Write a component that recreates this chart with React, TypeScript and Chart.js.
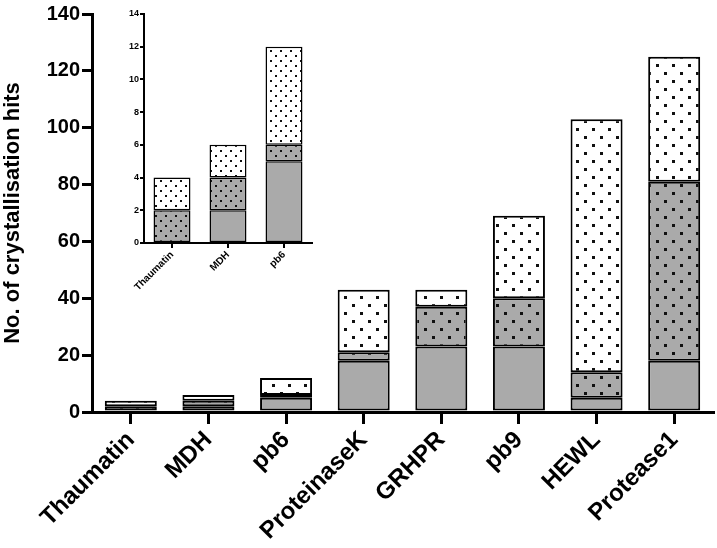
import React, { useEffect, useRef } from 'react';
import { Chart, registerables } from 'chart.js';

Chart.register(...registerables);

// ---- Data ----
const categories = ['Thaumatin', 'MDH', 'pb6', 'ProteinaseK', 'GRHPR', 'pb9', 'HEWL', 'Protease1'];
const solidGrey = [0, 2, 5, 18, 23, 23, 5, 18];
const dottedGrey = [2, 2, 1, 3, 14, 17, 9, 63];
const dottedWhite = [2, 2, 6, 22, 6, 29, 89, 44];

const mainYMin = 0;
const mainYMax = 140;
const mainYStep = 20;

const insetCount = 3; // inset shows the first three categories
const insetYMin = 0;
const insetYMax = 14;
const insetYStep = 2;

const yTitle = 'No. of crystallisation hits';

const FONT = '"Liberation Sans", Arial, sans-serif';
const GREY = '#aaaaaa';
const DOT = '#111111';

function makePattern(ctx: CanvasRenderingContext2D, bg: string, tile: number, dot: number) {
  const c = document.createElement('canvas');
  c.width = tile;
  c.height = tile;
  const t = c.getContext('2d')!;
  t.fillStyle = bg;
  t.fillRect(0, 0, tile, tile);
  t.fillStyle = DOT;
  t.fillRect(0, 0, dot, dot);
  t.fillRect(tile / 2, tile / 2, dot, dot);
  return ctx.createPattern(c, 'repeat')!;
}

function buildConfig(
  ctx: CanvasRenderingContext2D,
  labels: string[],
  a: number[],
  b: number[],
  c: number[],
  o: any
): any {
  const greyDots = makePattern(ctx, GREY, o.tile, o.dot);
  const whiteDots = makePattern(ctx, '#ffffff', o.tile, o.dot);
  const common = {
    borderColor: '#000000',
    borderWidth: o.barBorder,
    borderSkipped: false,
    barPercentage: o.barPct,
    categoryPercentage: 1,
  };
  return {
    type: 'bar',
    data: {
      labels,
      datasets: [
        { ...common, data: a, backgroundColor: GREY },
        { ...common, data: b, backgroundColor: greyDots },
        { ...common, data: c, backgroundColor: whiteDots },
      ],
    },
    options: {
      responsive: false,
      animation: false,
      events: [],
      plugins: { legend: { display: false }, tooltip: { enabled: false } },
      layout: { padding: o.padding },
      scales: {
        x: {
          stacked: true,
          offset: true,
          grid: {
            display: true,
            drawOnChartArea: false,
            drawTicks: true,
            tickLength: o.xTickLen,
            lineWidth: o.axisWidth,
            color: '#000000',
            offset: false,
          },
          border: { display: true, width: o.axisWidth, color: '#000000' },
          ticks: {
            autoSkip: false,
            maxRotation: 45,
            minRotation: 45,
            padding: o.xLabelPad,
            color: '#000000',
            font: { family: FONT, size: o.xFont, weight: 'bold' },
          },
          afterFit: (s: any) => {
            s.height = o.xHeight;
          },
        },
        y: {
          stacked: true,
          min: o.yMin,
          max: o.yMax,
          grid: {
            display: true,
            drawOnChartArea: false,
            drawTicks: true,
            tickLength: o.yTickLen,
            lineWidth: o.axisWidth,
            color: '#000000',
          },
          border: { display: true, width: o.axisWidth, color: '#000000' },
          ticks: {
            stepSize: o.yStep,
            padding: o.yLabelPad,
            color: '#000000',
            font: { family: FONT, size: o.yFont, weight: 'bold' },
          },
          title: o.title
            ? {
                display: true,
                text: o.title,
                color: '#000000',
                padding: { top: 0, bottom: 0 },
                font: { family: FONT, size: o.titleFont, weight: 'bold' },
              }
            : { display: false },
          afterFit: (s: any) => {
            s.width = o.yWidth;
          },
        },
      },
    },
  };
}

export default function App() {
  const mainRef = useRef<HTMLCanvasElement>(null);
  const insetRef = useRef<HTMLCanvasElement>(null);

  useEffect(() => {
    const mctx = mainRef.current!.getContext('2d')!;
    const ictx = insetRef.current!.getContext('2d')!;
    const main = new Chart(
      mainRef.current!,
      buildConfig(mctx, categories, solidGrey, dottedGrey, dottedWhite, {
        tile: 16,
        dot: 3,
        barBorder: 2,
        barPct: 0.67,
        padding: { top: 12, right: 4, left: 0, bottom: 0 },
        xTickLen: 12,
        yTickLen: 10,
        axisWidth: 3,
        xLabelPad: 2,
        yLabelPad: 2,
        xFont: 24,
        yFont: 20,
        titleFont: 22,
        xHeight: 136,
        yWidth: 92,
        yMin: mainYMin,
        yMax: mainYMax,
        yStep: mainYStep,
        title: yTitle,
      })
    );
    const inset = new Chart(
      insetRef.current!,
      buildConfig(
        ictx,
        categories.slice(0, insetCount),
        solidGrey.slice(0, insetCount),
        dottedGrey.slice(0, insetCount),
        dottedWhite.slice(0, insetCount),
        {
          tile: 10,
          dot: 2,
          barBorder: 1.5,
          barPct: 0.66,
          padding: { top: 14, right: 28, left: 0, bottom: 0 },
          xTickLen: 5,
          yTickLen: 4,
          axisWidth: 2,
          xLabelPad: 1,
          yLabelPad: 1,
          xFont: 10,
          yFont: 9,
          titleFont: 10,
          xHeight: 57,
          yWidth: 44,
          yMin: insetYMin,
          yMax: insetYMax,
          yStep: insetYStep,
          title: null,
        }
      )
    );
    return () => {
      main.destroy();
      inset.destroy();
    };
  }, []);

  return (
    <div
      style={{
        position: 'fixed',
        left: 0,
        top: 0,
        width: 717,
        height: 548,
        background: '#ffffff',
        overflow: 'hidden',
      }}
    >
      <canvas
        ref={mainRef}
        width={717}
        height={548}
        style={{ position: 'absolute', left: 0, top: 0, width: 717, height: 548 }}
      />
      <canvas
        ref={insetRef}
        width={240}
        height={300}
        style={{ position: 'absolute', left: 100, top: 0, width: 240, height: 300 }}
      />
    </div>
  );
}
